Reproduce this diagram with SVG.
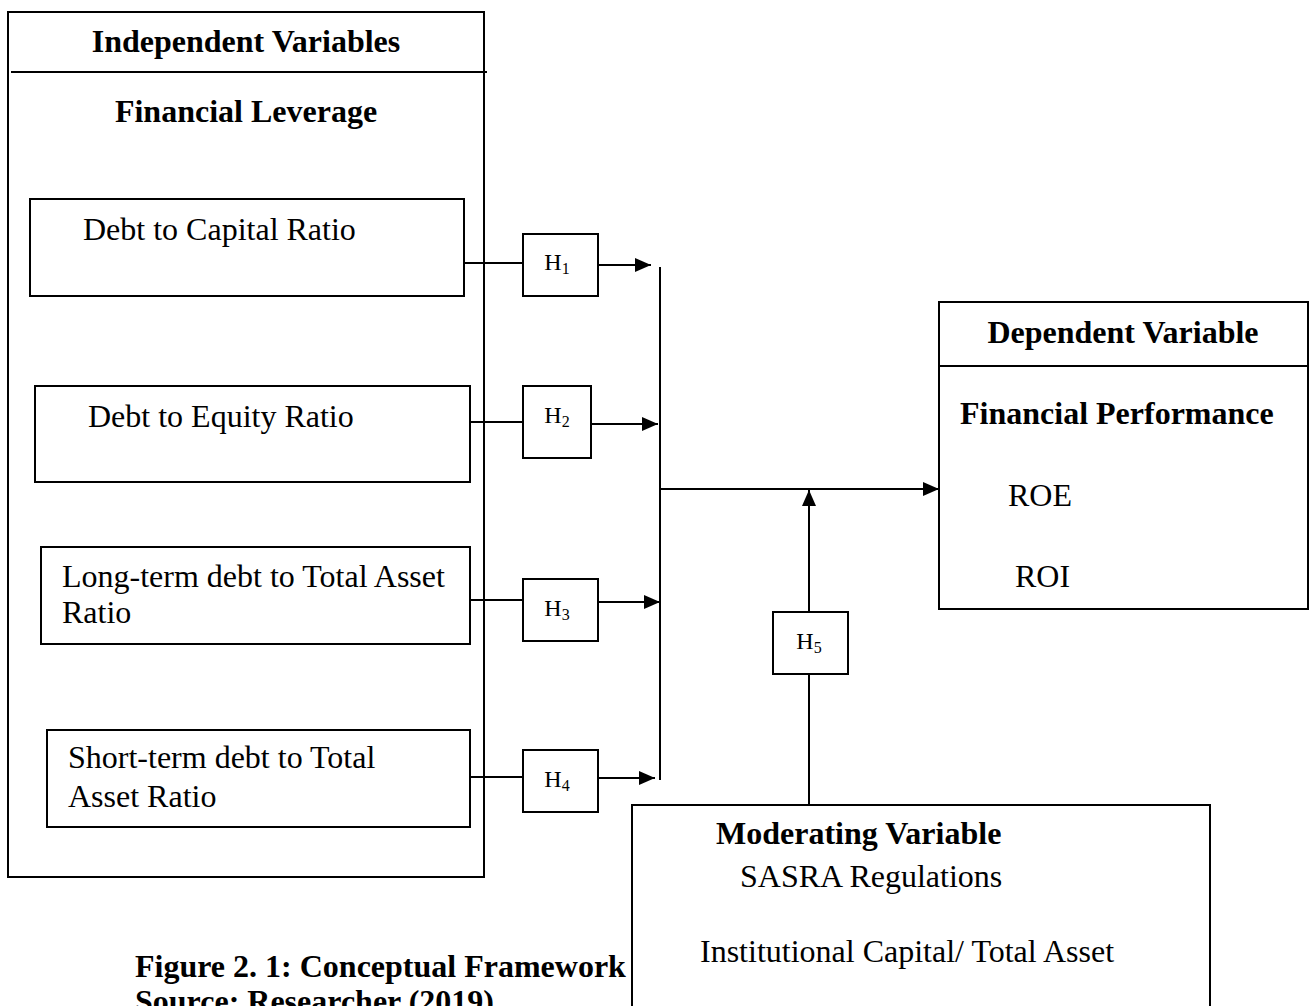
<svg xmlns="http://www.w3.org/2000/svg" width="1310" height="1006" viewBox="0 0 1310 1006">
<defs>
<style>
.box{fill:none;stroke:#000;stroke-width:2}
.ln{fill:none;stroke:#000;stroke-width:2}
.t{font-family:"Liberation Serif","Times New Roman",serif;font-size:32px;fill:#000}
.b{font-weight:bold}
.h{font-family:"Liberation Serif","Times New Roman",serif;font-size:24px;fill:#000;text-anchor:middle}
.sub{font-size:16px}
</style>
<marker id="arr" markerUnits="userSpaceOnUse" markerWidth="18" markerHeight="14" refX="16" refY="7" orient="auto">
<path d="M0,0 L16,7 L0,14 Z" fill="#000"/>
</marker>
</defs>
<rect width="1310" height="1006" fill="#fff"/>
<g id="independent">
<rect class="box" x="8" y="12" width="476" height="865"/>
<line class="ln" x1="11" y1="72" x2="487" y2="72"/>
<text class="t b" x="246" y="52" text-anchor="middle">Independent Variables</text>
<text class="t b" x="246" y="122" text-anchor="middle">Financial Leverage</text>
</g>
<g id="debt-capital">
<rect class="box" x="30" y="199" width="434" height="97"/>
<text class="t" x="83" y="240">Debt to Capital Ratio</text>
</g>
<g id="debt-equity">
<rect class="box" x="35" y="386" width="435" height="96"/>
<text class="t" x="88" y="427">Debt to Equity Ratio</text>
</g>
<g id="longterm">
<rect class="box" x="41" y="547" width="429" height="97"/>
<text class="t" x="62" y="587">Long-term debt to Total Asset</text>
<text class="t" x="62" y="623">Ratio</text>
</g>
<g id="shortterm">
<rect class="box" x="47" y="730" width="423" height="97"/>
<text class="t" x="68" y="768">Short-term debt to Total</text>
<text class="t" x="68" y="807">Asset Ratio</text>
</g>
<g id="h1">
<rect class="box" x="523" y="234" width="75" height="62"/>
<text class="h" x="557" y="270">H<tspan class="sub" dy="4">1</tspan></text>
</g>
<g id="h2">
<rect class="box" x="523" y="386" width="68" height="72"/>
<text class="h" x="557" y="423">H<tspan class="sub" dy="4">2</tspan></text>
</g>
<g id="h3">
<rect class="box" x="523" y="579" width="75" height="62"/>
<text class="h" x="557" y="616">H<tspan class="sub" dy="4">3</tspan></text>
</g>
<g id="h4">
<rect class="box" x="523" y="750" width="75" height="62"/>
<text class="h" x="557" y="787">H<tspan class="sub" dy="4">4</tspan></text>
</g>
<g id="h5">
<rect class="box" x="773" y="612" width="75" height="62"/>
<text class="h" x="809" y="649">H<tspan class="sub" dy="4">5</tspan></text>
</g>
<g id="dependent">
<rect class="box" x="939" y="302" width="369" height="307"/>
<line class="ln" x1="939" y1="366" x2="1308" y2="366"/>
<text class="t b" x="1123" y="343" text-anchor="middle">Dependent Variable</text>
<text class="t b" x="960" y="424">Financial Performance</text>
<text class="t" x="1008" y="506">ROE</text>
<text class="t" x="1015" y="587">ROI</text>
</g>
<g id="moderating">
<rect class="box" x="632" y="805" width="578" height="230"/>
<text class="t b" x="716" y="844">Moderating Variable</text>
<text class="t" x="740" y="887">SASRA Regulations</text>
<text class="t" x="700" y="962">Institutional Capital/ Total Asset</text>
</g>
<g id="caption">
<text class="t b" x="135" y="977">Figure 2. 1: Conceptual Framework</text>
<text class="t b" x="135" y="1012">Source: Researcher (2019)</text>
</g>
<g id="connectors">
<line class="ln" x1="464" y1="263" x2="523" y2="263"/>
<line class="ln" x1="470" y1="422" x2="523" y2="422"/>
<line class="ln" x1="470" y1="600" x2="523" y2="600"/>
<line class="ln" x1="470" y1="777" x2="523" y2="777"/>
<line class="ln" x1="598" y1="265" x2="651" y2="265" marker-end="url(#arr)"/>
<line class="ln" x1="591" y1="424" x2="658" y2="424" marker-end="url(#arr)"/>
<line class="ln" x1="598" y1="602" x2="660" y2="602" marker-end="url(#arr)"/>
<line class="ln" x1="598" y1="778" x2="655" y2="778" marker-end="url(#arr)"/>
<line class="ln" x1="660" y1="267" x2="660" y2="780"/>
<line class="ln" x1="660" y1="489" x2="939" y2="489" marker-end="url(#arr)"/>
<line class="ln" x1="809" y1="612" x2="809" y2="490" marker-end="url(#arr)"/>
<line class="ln" x1="809" y1="674" x2="809" y2="805"/>
</g>
</svg>
